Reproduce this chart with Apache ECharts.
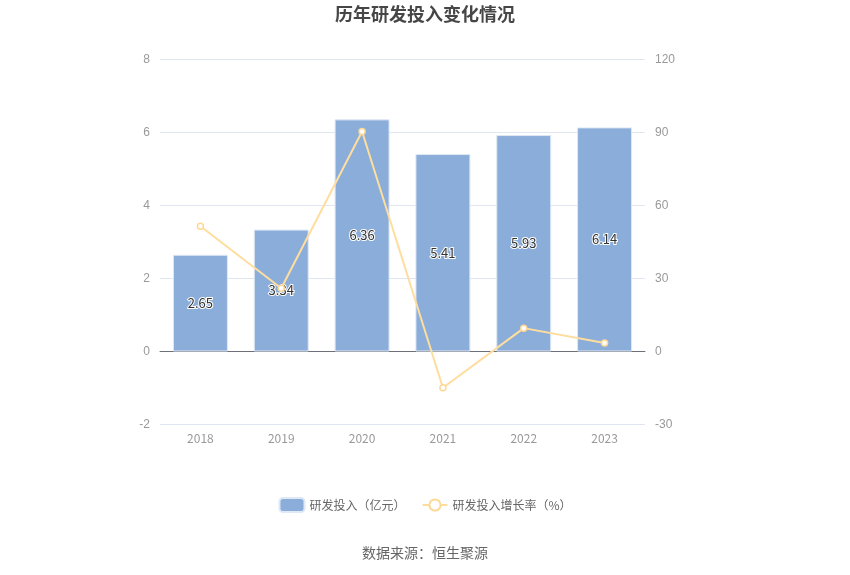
<!DOCTYPE html>
<html><head><meta charset="utf-8">
<script src="https://cdn.jsdelivr.net/npm/echarts@6/dist/echarts.min.js"></script>
<style>html,body{margin:0;padding:0;background:#fff}#c{width:850px;height:575px}</style>
</head><body><div id="c"></div>
<script>
const categories = ['2018','2019','2020','2021','2022','2023'];
const rdInvest = [2.65, 3.34, 6.36, 5.41, 5.93, 6.14];
const rdGrowth = [51.5, 26.0, 90.4, -14.9, 9.6, 3.5];
const leftTicks = {min:-2, max:8, interval:2};
const rightTicks = {min:-30, max:120, interval:30};

const chart = echarts.init(document.getElementById('c'));
const font = '"Microsoft YaHei","Noto Sans CJK SC",sans-serif';
chart.setOption({
  animation:false,
  title:{text:'历年研发投入变化情况', left:'center', top:0,
    textStyle:{fontSize:18, fontWeight:'bold', color:'#464646', fontFamily:font}},
  grid:{left:160, right:205, top:59.5, bottom:150.5},
  legend:{bottom:57, left:'center', itemGap:16, itemWidth:25, itemHeight:14,
    textStyle:{color:'#666', fontSize:12, fontFamily:font},
    data:[{name:'研发投入（亿元）'},{name:'研发投入增长率（%）'}]},
  graphic:[{type:'text', left:'center', top:546,
    style:{text:'数据来源：恒生聚源', fill:'#666', fontSize:14, fontFamily:font}}],
  xAxis:{type:'category', data:categories,
    axisLine:{onZero:true, lineStyle:{color:'#6e7079'}},
    axisTick:{alignWithLabel:true, lineStyle:{color:'#999'}},
    axisLabel:{color:'#999', fontSize:12, margin:8, fontFamily:font},
    position:'bottom'},
  yAxis:[
    {type:'value', min:leftTicks.min, max:leftTicks.max, interval:leftTicks.interval,
      axisLine:{show:false}, axisTick:{show:false},
      axisLabel:{color:'#999', fontSize:12, margin:10},
      splitLine:{lineStyle:{color:'#e0e6f1'}}},
    {type:'value', min:rightTicks.min, max:rightTicks.max, interval:rightTicks.interval,
      axisLine:{show:false}, axisTick:{show:false},
      axisLabel:{color:'#999', fontSize:12, margin:10},
      splitLine:{show:false}}
  ],
  series:[
    {name:'研发投入（亿元）', type:'bar', data:rdInvest, barWidth:'68%',
      itemStyle:{color:'#8badd9', borderColor:'#dfe8f5', borderWidth:1},
      label:{show:true, position:'inside', color:'#333', fontSize:13,
        textBorderColor:'#fff', textBorderWidth:2, fontFamily:font}},
    {name:'研发投入增长率（%）', type:'line', yAxisIndex:1, data:rdGrowth,
      symbol:'circle', symbolSize:6,
      itemStyle:{color:'#fff', borderColor:'#fed897', borderWidth:1.5},
      lineStyle:{color:'#fedd9e', width:2}}
  ]
});
</script></body></html>
